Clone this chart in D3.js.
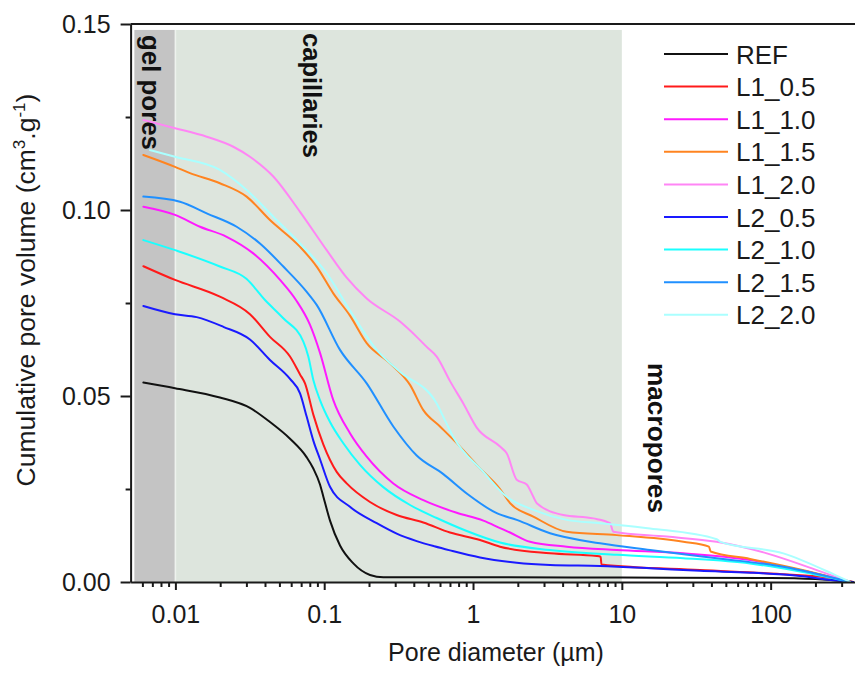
<!DOCTYPE html>
<html><head><meta charset="utf-8">
<script src="https://cdn.jsdelivr.net/npm/d3@7"></script>
<style>body{margin:0;background:#fff;} svg text{font-family:"Liberation Sans",Arial,Helvetica,sans-serif;}</style>
</head><body>
<svg id="c" width="855" height="673"></svg>
<script>
// ---------- DATA (pore diameter in µm, cumulative pore volume in cm3/g) ----------
const seriesNames  = ["REF","L1_0.5","L1_1.0","L1_1.5","L1_2.0","L2_0.5","L2_1.0","L2_1.5","L2_2.0"];
const seriesColors = ["#111111","#ff1a1a","#ff1aff","#ff8420","#ff85f5","#1a1aff","#1affff","#2090ff","#aaffff"];

const REF = [[0.00609,0.0536],[0.00994,0.0521],[0.0199,0.0496],[0.0317,0.0468],[0.0432,0.0430],[0.0589,0.0385],
  [0.0763,0.0335],[0.0845,0.0305],[0.0937,0.0262],[0.0986,0.0230],[0.1094,0.0165],[0.1277,0.0098],[0.1569,0.0050],
  [0.2031,0.0019],[0.2495,0.0013],[1,0.0013],[10,0.0012],[100,0.0011],[200,0.0008],[358,0]];

const L1_05 = [[0.00609,0.0849],[0.00994,0.0812],[0.0199,0.0767],[0.0317,0.0720],[0.0432,0.0659],[0.0589,0.0606],
  [0.0688,0.0558],[0.0743,0.0534],[0.0845,0.0450],[0.0986,0.0370],[0.1213,0.0296],[0.1416,0.0265],[0.2031,0.0215],
  [0.307,0.0180],[0.4634,0.0160],[0.7,0.0133],[1.114,0.0113],[1.519,0.0095],[3.293,0.0077],[6.78,0.0070],[7.2,0.0068],
  [7.3,0.0047],[33.5,0.0032],[110,0.0022],[264,0.0010],[358,0]];

const L1_10 = [[0.00609,0.1009],[0.00994,0.0987],[0.01463,0.0955],[0.0221,0.0928],[0.0332,0.0884],[0.0505,0.0812],
  [0.0646,0.0758],[0.0803,0.0691],[0.0937,0.0616],[0.1151,0.0489],[0.149,0.0400],[0.193,0.0337],[0.2913,0.0265],
  [0.4634,0.0220],[0.777,0.0186],[1.173,0.0165],[1.519,0.0145],[1.773,0.0133],[2.416,0.0108],[4.264,0.0095],
  [9.242,0.0086],[25.9,0.0077],[72.7,0.0059],[157.6,0.0032],[342,0]];

const L1_15 = [[0.00609,0.1148],[0.00994,0.1116],[0.01253,0.1099],[0.0199,0.1072],[0.0301,0.1036],[0.0432,0.0973],
  [0.0688,0.0901],[0.089,0.0848],[0.1151,0.0776],[0.149,0.0716],[0.193,0.0642],[0.2768,0.0588],[0.3773,0.0530],
  [0.4634,0.0462],[0.6,0.0418],[0.8177,0.0364],[1.086,0.0310],[1.519,0.0250],[1.773,0.0212],[2.542,0.0176],
  [4.264,0.0135],[9.242,0.0126],[25.9,0.0108],[38.5,0.0095],[39.5,0.0082],[72.7,0.0062],[204,0.0023],[342,0]];

const L1_20 = [[0.00609,0.1242],[0.00994,0.1220],[0.01623,0.1197],[0.0245,0.1170],[0.0317,0.1143],[0.0455,0.1090],
  [0.0688,0.0995],[0.1039,0.0892],[0.1416,0.0818],[0.193,0.0762],[0.3231,0.0700],[0.4183,0.0659],[0.4884,0.0632],
  [0.5702,0.0606],[0.7004,0.0540],[0.8606,0.0480],[1.059,0.0415],[1.519,0.0364],[1.684,0.0346],[1.967,0.0275],
  [2.296,0.0262],[2.542,0.0229],[2.681,0.0212],[4.045,0.0180],[6.435,0.0171],[8.33,0.0158],[8.77,0.0135],
  [20.04,0.0122],[43.4,0.0108],[94.2,0.0077],[204,0.0032],[342,0]];

const L2_05 = [[0.00609,0.0742],[0.00994,0.0720],[0.0139,0.0712],[0.021,0.0686],[0.0317,0.0652],[0.0432,0.0597],
  [0.0589,0.0546],[0.0688,0.0507],[0.0763,0.0444],[0.0845,0.0380],[0.0937,0.0330],[0.1094,0.0256],[0.149,0.0202],
  [0.2253,0.0158],[0.307,0.0130],[0.4183,0.0110],[0.55,0.0096],[0.7,0.0085],[1.114,0.0066],[1.967,0.0052],[3.293,0.0046],
  [7.138,0.0043],[15.47,0.0037],[33.5,0.0030],[72.7,0.0025],[157.6,0.0016],[264,0.0005],[358,0]];

const L2_10 = [[0.00609,0.0919],[0.00994,0.0892],[0.0199,0.0848],[0.030,0.0815],[0.040,0.0758],[0.0531,0.0709],
  [0.0724,0.0646],[0.0782,0.0606],[0.0845,0.0543],[0.0937,0.0489],[0.1094,0.0430],[0.1344,0.0373],[0.174,0.0315],
  [0.2495,0.0255],[0.3773,0.0207],[0.5702,0.0172],[0.9072,0.0137],[1.519,0.0106],[3.293,0.0086],[9.242,0.0073],
  [25.9,0.0064],[72.7,0.0050],[157.6,0.0028],[342,0]];

const L2_15 = [[0.00609,0.1036],[0.01074,0.1022],[0.01623,0.0991],[0.0258,0.0955],[0.037,0.0910],[0.0531,0.0848],
  [0.0763,0.0780],[0.089,0.0745],[0.1277,0.0624],[0.193,0.0534],[0.2913,0.0418],[0.4183,0.0340],[0.6316,0.0290],
  [0.9072,0.0238],[1.443,0.0185],[1.967,0.0167],[3.293,0.0131],[7.138,0.0104],[15.47,0.0086],[43.4,0.0064],
  [121.7,0.0041],[342,0]];

const L2_20 = [[0.00675,0.1161],[0.00994,0.1143],[0.0199,0.1108],[0.0301,0.1054],[0.0455,0.0982],[0.0688,0.0910],
  [0.1039,0.0830],[0.149,0.0730],[0.2253,0.0624],[0.3231,0.0565],[0.5702,0.0480],[0.6316,0.0444],[0.7374,0.0390],
  [1.173,0.0296],[1.684,0.0229],[2.542,0.0194],[4.264,0.0167],[7.138,0.0158],[15.47,0.0144],[43.4,0.0115],
  [46,0.0108],[121.7,0.0077],[264,0.0021],[342,0]];

const seriesValues = [REF, L1_05, L1_10, L1_15, L1_20, L2_05, L2_10, L2_15, L2_20];

// pore-size regions (µm)
const regionNames = ["gel pores","capillaries","macropores"];
const regionFrom  = [0.0053, 0.01, 10];
const regionTo    = [0.01, 10, 370];
const regionTop   = 0.1484;

// ticks
const xMajor = [0.01, 0.1, 1, 10, 100];
const xTickLabels = ["0.01","0.1","1","10","100"];
const yMajor = [0, 0.05, 0.10, 0.15];
const yTickLabels = ["0.00","0.05","0.10","0.15"];
const yMinor = [0.025, 0.075, 0.125];

// ---------- CHART ----------
const W = 855, H = 673;
const svg = d3.select("#c");
const x = d3.scaleLog().domain([0.005, 370]).range([130.6, 855.2]);
const y = d3.scaleLinear().domain([0, 0.15]).range([582, 24]);
const ink = "#1a1a1a";

// shaded regions
const fills = ["#c4c4c4", "#dde5dd", "none"];
regionNames.forEach((n, i) => {
  if (fills[i] === "none") return;
  svg.append("rect")
    .attr("x", x(regionFrom[i])).attr("y", y(regionTop))
    .attr("width", x(regionTo[i]) - x(regionFrom[i]))
    .attr("height", y(0) - y(regionTop))
    .attr("fill", fills[i]);
});
svg.append("line").attr("x1", x(regionTo[0])).attr("x2", x(regionTo[0]))
  .attr("y1", y(regionTop)).attr("y2", y(0)).attr("stroke", "#eef2ee").attr("stroke-width", 1.6);

// region labels (rotated)
const labelPos = [[141.5, 35, 115], [303, 33, 125], [648, 363, 150]];
regionNames.forEach((n, i) => {
  svg.append("text")
    .attr("transform", `translate(${labelPos[i][0]},${labelPos[i][1]}) rotate(90)`)
    .attr("font-size", 26).attr("font-weight", "bold").attr("fill", "#111")
    .attr("textLength", labelPos[i][2]).attr("lengthAdjust", "spacingAndGlyphs")
    .text(n);
});

// curves
const line = d3.line().x(d => x(d[0])).y(d => y(d[1])).curve(d3.curveMonotoneX);
seriesValues.forEach((vals, i) => {
  svg.append("path").attr("d", line(vals)).attr("fill", "none")
    .attr("stroke", seriesColors[i]).attr("stroke-width", 2)
    .attr("stroke-linejoin", "round").attr("stroke-linecap", "round");
});

// axes
function styleAxis(g) {
  g.attr("font-family", null).attr("font-size", null);
  g.selectAll("path,line").attr("stroke", ink).attr("stroke-width", 2);
  g.selectAll("text").attr("fill", ink).attr("font-size", 25);
}
const xMinor = [];
[0.001, 0.01, 0.1, 1, 10, 100].forEach(b => { for (let k = 2; k <= 9; k++) { const v = b * k; if (v > 0.005 && v < 370) xMinor.push(v); } });

svg.append("g").attr("transform", `translate(0,${y(0)})`)
  .call(d3.axisBottom(x).tickValues(xMinor).tickFormat("").tickSizeInner(5).tickSizeOuter(0))
  .call(g => g.select(".domain").remove()).call(styleAxis);
svg.append("g").attr("transform", `translate(0,${y(0)})`)
  .call(d3.axisBottom(x).tickValues(xMajor).tickFormat((d, i) => xTickLabels[i]).tickSizeInner(8).tickSizeOuter(0).tickPadding(15))
  .call(styleAxis);

svg.append("g").attr("transform", `translate(${x(0.005)},0)`)
  .call(d3.axisLeft(y).tickValues(yMinor).tickFormat("").tickSizeInner(5).tickSizeOuter(0))
  .call(g => g.select(".domain").remove()).call(styleAxis);
svg.append("g").attr("transform", `translate(${x(0.005)},0)`)
  .call(d3.axisLeft(y).tickValues(yMajor).tickFormat((d, i) => yTickLabels[i]).tickSizeInner(10).tickSizeOuter(0).tickPadding(10))
  .call(styleAxis);

// top frame
svg.append("line").attr("x1", x(0.005)).attr("x2", W).attr("y1", y(0.15)).attr("y2", y(0.15))
  .attr("stroke", ink).attr("stroke-width", 2);

// axis titles
svg.append("text").attr("x", 496).attr("y", 661).attr("text-anchor", "middle")
  .attr("font-size", 25).attr("fill", ink).text("Pore diameter (µm)");
const yt = svg.append("text").attr("transform", "translate(35,290) rotate(-90)")
  .attr("text-anchor", "middle").attr("font-size", 26.5).attr("fill", ink);
yt.append("tspan").text("Cumulative pore volume (cm");
yt.append("tspan").attr("font-size", 17).attr("dy", -10).text("3");
yt.append("tspan").attr("dy", 10).text(".g");
yt.append("tspan").attr("font-size", 17).attr("dy", -10).text("-1");
yt.append("tspan").attr("dy", 10).text(")");

// legend
const lg = svg.append("g");
seriesNames.forEach((n, i) => {
  const ly = 54 + i * 32.6;
  lg.append("line").attr("x1", 664).attr("x2", 728).attr("y1", ly).attr("y2", ly)
    .attr("stroke", seriesColors[i]).attr("stroke-width", 2);
  lg.append("text").attr("x", 736).attr("y", ly + 9.5).attr("font-size", 26).attr("fill", ink).text(n);
});
</script>
</body></html>
